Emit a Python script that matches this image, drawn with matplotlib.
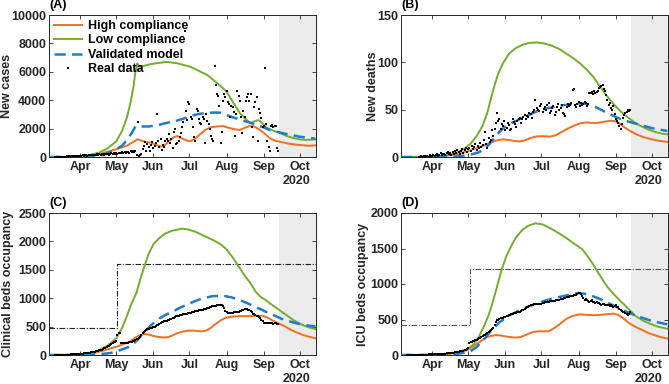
import numpy as np
import matplotlib
matplotlib.use("Agg")
import matplotlib.pyplot as plt

plt.rcParams['font.family'] = ['Liberation Sans', 'DejaVu Sans']
plt.rcParams['font.weight'] = 'bold'

# x axis: days since 2020-03-01
month_days = [31, 61, 92, 122, 153, 184, 214]
month_labels = ['Apr', 'May', 'Jun', 'Jul', 'Aug', 'Sep', 'Oct']
year_label = '2020'
x_limits = (5, 227.5)
forecast_start = 197

# ---------------- Panel A: new cases ----------------
caseA_high_d = [5, 20, 30, 40, 50, 60, 70, 77, 78.5, 82, 86, 90, 95, 98, 101, 105, 109, 112, 116, 120, 123, 127, 131, 135,
                140, 145, 150, 155, 160, 164, 168, 172, 176, 180, 184, 189, 194, 198, 204, 210, 216, 221, 227]
caseA_high_v = [0, 5, 30, 100, 280, 520, 800, 1150, 1250, 1150, 1050, 1000, 830, 730, 800, 1100, 1400, 1480, 1300, 1150,
                1120, 1300, 1600, 1900, 2100, 2150, 2180, 2050, 1950, 1900, 2050, 2180, 2150, 1950, 1700, 1320, 1130, 1060,
                950, 880, 830, 790, 820]
caseA_low_d = [5, 20, 30, 40, 47, 54, 61, 66, 70, 73, 75.5, 77, 78.5, 81, 90, 103, 112, 123, 137, 142, 148, 153, 158, 164,
               169, 173, 176.5, 179.5, 182, 186.5, 192, 198, 203, 209, 215, 220, 227]
caseA_low_v = [0, 10, 50, 160, 320, 620, 1100, 1850, 2800, 3850, 5000, 6000, 6590, 6350, 6550, 6700, 6600, 6350, 5770,
               5420, 5000, 4600, 3900, 3100, 2650, 2400, 2520, 2600, 2450, 2050, 1850, 1670, 1480, 1320, 1230, 1200, 1245]
caseA_val_d = [5, 40, 50, 60, 66, 70, 74, 77, 80, 88, 96, 103, 110, 117, 123, 130, 137, 143, 148, 152, 156, 162, 167, 173,
               178, 184, 189, 195, 200, 207, 214, 220, 227]
caseA_val_v = [0, 20, 150, 500, 800, 1200, 1700, 2150, 2150, 2150, 2250, 2400, 2520, 2700, 2890, 3030, 3110, 3130, 3120,
               3000, 2850, 2700, 2560, 2400, 2250, 2080, 1900, 1780, 1670, 1550, 1430, 1360, 1290]
cases_first_day = 10
cases_real = [0, 5, 10, 5, 15, 10, 20,
              20, 30, 25, 40, 35, 50, 45,
              60, 55, 70, 50, 80, 90, 75,
              100, 90, 120, 85, 110, 130, 105,
              140, 120, 160, 115, 150, 170, 135,
              180, 150, 200, 140, 190, 215, 165,
              220, 190, 245, 175, 235, 260, 205,
              270, 230, 295, 215, 285, 310, 250,
              320, 290, 350, 270, 345, 380, 300,
              400, 350, 430, 330, 450, 120, 2440,
              90, 150, 200, 560, 800, 1030, 450,
              915, 700, 446, 850, 1030, 620, 780,
              990, 3030, 1150, 700, 1280, 520, 870,
              700, 1100, 1300, 1150, 1620, 980, 1300,
              600, 1740, 1970, 900, 1000, 1150, 1400,
              1700, 2140, 2500, 8870, 3260, 2600, 3850,
              3730, 2800, 2650, 2090, 1400, 1150, 3380,
              3260, 2700, 2400, 2320, 2800, 2700, 1000,
              3000, 2560, 2300, 2000, 1500, 1300, 1100,
              6430, 5100, 4430, 4300, 3600, 1000, 1750,
              3970, 4430, 4200, 4670, 3900, 3700, 2800,
              3600, 3500, 3150, 1500, 3050, 4670, 4300,
              3970, 2800, 1700, 3210, 2850, 3970, 4200,
              4450, 3970, 4450, 2100, 1400, 3500, 3850,
              4200, 1100, 3400, 3100, 2750, 2100, 2200,
              6300, 2300, 1150, 700, 450, 2200, 2250,
              2090, 2200, 2150, 600, 400]

# ---------------- Panel B: new deaths ----------------
deathB_high_d = [5, 30, 40, 50, 60, 67, 74, 80, 86, 90, 95, 100, 104, 108, 113, 118, 124, 129, 134, 139, 144, 149, 154,
                 159, 164, 169, 174, 179, 183, 187, 191, 196, 201, 207, 213, 219, 227]
deathB_high_v = [0, 0.3, 1, 2.5, 6, 9, 12, 15.5, 18, 18.6, 18, 16.8, 16.5, 17.5, 20, 21.8, 22, 21.5, 23, 26.5, 30, 33,
                 35.5, 36.5, 36, 36, 37.2, 38.2, 38, 35.5, 31.5, 27.5, 24, 21, 19, 17.3, 16]
deathB_low_d = [5, 20, 30, 40, 50, 57, 63, 68, 73, 77, 80, 83, 86, 90, 95, 100, 106, 112, 118, 124, 130, 137, 143, 149,
                155, 160, 165, 170, 175, 180, 185, 190, 195, 200, 206, 212, 218, 223, 227]
deathB_low_v = [0, 0.2, 0.5, 1.5, 4, 8, 14, 22, 33, 47, 62, 76, 88, 99, 109, 114.5, 118.5, 120.5, 121, 120, 118, 114,
                109, 104, 98, 92, 85, 76, 67, 59, 52, 46, 41, 36, 32, 28.5, 26, 24.5, 24]
deathB_val_d = [5, 40, 55, 63, 70, 75, 79, 82, 85, 89, 93, 98, 104, 110, 115, 121, 127, 133, 139, 145, 150, 155, 160,
                165, 170, 176, 182, 188, 194, 200, 207, 214, 220, 227]
deathB_val_v = [0, 0, 1, 2.5, 5, 9, 14, 19, 24, 29, 33, 36.5, 40, 43.5, 46.5, 49.5, 51.5, 53, 54.5, 55.5, 56.3, 56.7,
                56, 54, 51, 47, 43.5, 40, 37.5, 35.5, 33, 30.5, 29, 27.5]
deaths_first_day = 20
deaths_real = [0, 0, 1, 0, 1, 0, 1,
               1, 0, 2, 1, 1, 2, 1,
               2, 3, 1, 2, 4, 2, 3,
               3, 2, 4, 5, 3, 4, 2,
               5, 3, 6, 4, 7, 5, 3,
               6, 8, 4, 7, 9, 5, 8,
               10, 6, 12, 8, 11, 14, 7,
               12, 9, 15, 11, 13, 18, 26,
               14, 10, 20, 16, 18, 28, 22,
               30, 36, 47, 38, 40, 30, 35,
               33, 38, 29, 31, 36, 34, 28,
               30, 40, 37, 35, 32, 38, 40,
               41, 36, 40, 42, 44, 40, 43,
               42, 46, 45, 41, 48, 50, 60,
               52, 50, 49, 54, 56, 48, 51,
               53, 50, 55, 57, 46, 49, 52,
               54, 44, 48, 53, 56, 50, 52,
               55, 47, 45, 43, 53, 56, 54,
               55, 57, 71, 72, 55, 53, 56,
               58, 54, 57, 55, 56, 58, 57,
               54, 56, 68, 68, 69, 67, 70,
               68, 69, 70, 73, 74, 75, 76,
               72, 70, 65, 60, 55, 57, 52,
               50, 54, 45, 40, 38, 36, 33,
               30, 35, 41, 44, 46, 48, 50,
               49, 50]

# ---------------- Panel C: clinical beds ----------------
clinC_high_d = [5, 30, 40, 47, 54, 61, 67, 72, 76, 80, 84, 88, 92, 96, 100, 104, 108, 112, 116, 120, 124, 128, 132, 136,
                140, 144, 148, 152, 156, 160, 166, 172, 178, 183, 187, 191, 196, 201, 206, 211, 217, 222, 227]
clinC_high_v = [0, 5, 20, 59, 100, 146, 190, 234, 290, 345, 369, 360, 335, 318, 310, 312, 345, 385, 410, 425, 430, 425,
                415, 430, 480, 550, 610, 650, 670, 680, 685, 685, 690, 690, 660, 610, 560, 510, 450, 400, 350, 320, 295]
clinC_low_d = [5, 20, 30, 40, 47, 54, 61, 66, 70, 74, 78, 81, 84, 88, 92, 97, 102, 108, 116, 121, 127, 135, 142, 148,
               153, 158, 163, 168, 173, 177, 181, 186, 191, 197, 203, 209, 215, 221, 227]
clinC_low_v = [0, 2, 10, 35, 88, 170, 293, 480, 690, 920, 1100, 1330, 1530, 1780, 1950, 2060, 2140, 2190, 2225, 2210,
               2170, 2090, 2020, 1950, 1860, 1720, 1560, 1400, 1260, 1120, 1030, 960, 880, 790, 700, 610, 540, 490, 455]
clinC_val_d = [5, 40, 50, 56, 61, 66, 72, 76, 80, 84, 88, 93, 97, 102, 108, 113, 119, 125, 130, 136, 141, 147, 152, 157,
               161, 166, 172, 177, 183, 188, 194, 199, 205, 211, 216, 222, 227]
clinC_val_v = [0, 0, 20, 35, 59, 100, 146, 210, 293, 390, 480, 580, 644, 705, 761, 820, 878, 935, 975, 1010, 1036, 1040,
               1036, 1015, 990, 950, 896, 845, 790, 735, 685, 635, 595, 560, 535, 515, 505]
clin_capacity_d = [5, 62, 227.5]
clin_capacity_v = [470, 1610, 1610]
clin_first_day = 10
clin_real = [0, 0, 0, 1, 2, 2, 3, 4, 5, 5, 6, 7, 8, 9, 10, 12, 13, 15, 16, 18,
             20, 22, 24, 26, 28, 30, 33, 36, 40, 44, 48, 52, 56, 60, 65, 70, 76, 82, 88, 95,
             105, 115, 125, 140, 150, 165, 180, 195, 210, 225,
             230, 240, 360, 380, 390, 210, 205, 210, 215, 205,
             210, 220, 225, 235, 230, 240, 245, 260, 290, 280,
             300, 320, 350, 380, 400, 420, 440, 455, 465, 470,
             470, 480, 490, 500, 510, 520, 530, 545, 560, 575,
             585, 590, 595, 600, 610, 620, 630, 640, 650, 660,
             670, 680, 690, 695, 700, 705, 710, 715, 720, 725,
             730, 735, 740, 745, 750, 755, 760, 770, 775, 780,
             785, 790, 795, 800, 805, 810, 815, 820, 830, 840,
             850, 855, 860, 865, 870, 875, 880, 885, 885, 880,
             860, 820, 780, 750, 740, 735, 740, 745, 740, 750,
             750, 755, 760, 765, 770, 780, 790, 800, 805, 810,
             810, 800, 790, 770, 750, 730, 715, 700, 690, 680,
             670, 650, 620, 590, 570, 560, 560, 565, 560, 555,
             560, 555, 550, 555, 560, 550, 545]

# ---------------- Panel D: ICU beds ----------------
icuD_high_d = [5, 30, 45, 55, 61, 66, 72, 76, 80, 84, 88, 92, 97, 101, 105, 110, 115, 120, 124, 128, 132, 137, 143, 148,
               154, 160, 166, 171, 177, 182, 186, 190, 195, 200, 205, 211, 217, 222, 227]
icuD_high_v = [0, 3, 15, 40, 76, 130, 200, 245, 270, 280, 275, 262, 250, 245, 255, 290, 324, 335, 333, 335, 372, 430,
               512, 550, 573, 565, 560, 565, 575, 583, 565, 520, 450, 400, 360, 310, 275, 250, 232]
icuD_low_d = [5, 25, 35, 47, 54, 61, 66, 70, 74, 78, 81, 84, 89, 93, 97, 101, 106, 111, 117, 123, 130, 137, 144, 150,
              156, 161, 165, 169, 173, 177, 181, 185, 189, 194, 200, 207, 214, 220, 227]
icuD_low_v = [0, 2, 8, 28, 50, 90, 160, 260, 400, 560, 720, 900, 1210, 1400, 1540, 1660, 1760, 1820, 1854, 1840, 1780,
              1710, 1633, 1560, 1490, 1380, 1280, 1170, 1060, 960, 880, 810, 742, 660, 555, 480, 430, 395, 370]
icuD_val_d = [5, 40, 50, 57, 63, 68, 73, 78, 82, 87, 93, 99, 104, 110, 117, 126, 134, 143, 148, 153, 158, 163, 170, 176,
              183, 190, 197, 204, 212, 219, 227]
icuD_val_v = [0, 0, 12, 30, 55, 110, 200, 300, 372, 460, 535, 590, 630, 676, 720, 770, 805, 840, 860, 873, 862, 840, 795,
              746, 690, 629, 580, 535, 490, 460, 432]
icu_capacity_d = [5, 62.5, 227.5]
icu_capacity_v = [420, 1215, 1215]
icu_first_day = 10
icu_real = [0, 0, 0, 0, 1, 1, 1, 2, 2, 3, 3, 4, 4, 5, 5, 6, 6, 7, 8, 8,
            9, 10, 10, 11, 12, 13, 14, 15, 16, 17, 18, 20, 21, 23, 25, 27, 29, 31, 33, 35,
            38, 41, 44, 47, 50, 54, 58, 62, 66, 70,
            90, 100, 170, 180, 185, 195, 200, 210, 215, 225,
            235, 245, 255, 265, 275, 285, 295, 305, 320, 335,
            350, 365, 380, 420, 460, 490, 500, 510, 515, 520,
            525, 530, 540, 550, 555, 560, 570, 575, 580, 590,
            590, 595, 600, 605, 610, 620, 630, 640, 650, 660,
            670, 680, 690, 700, 705, 710, 712, 715, 717, 720,
            720, 722, 725, 730, 735, 740, 745, 748, 750, 755,
            758, 760, 762, 765, 768, 770, 775, 780, 785, 790,
            795, 800, 805, 810, 815, 820, 825, 830, 835, 840,
            845, 850, 860, 870, 880, 860, 830, 800, 780, 790,
            780, 760, 750, 760, 770, 750, 740, 730, 740, 735,
            730, 720, 710, 720, 715, 705, 700, 710, 700, 695,
            700, 690, 680, 690, 700, 680, 670, 650, 640, 620,
            610, 600, 590, 580, 570, 580, 600]

# ---------------- styling ----------------
c_high = '#F26F21'
c_low = '#72AD2E'
c_val = '#1F7BCB'
c_axis = '#262626'

fig = plt.figure(figsize=(6.69, 3.84), dpi=100)
W, H = 669, 384


def make_ax(left, top, right, bottom):
    return fig.add_axes([left / W, 1 - bottom / H, (right - left) / W, (bottom - top) / H])


axA = make_ax(49, 15, 316, 157)
axB = make_ax(401, 15, 668, 157)
axC = make_ax(49, 213, 316, 355)
axD = make_ax(401, 213, 668, 355)


def style(ax, ylim, yticks, ylabel, tag, label_x):
    ax.axvspan(forecast_start, x_limits[1], color='#EBEBEB', lw=0, zorder=0)
    ax.set_xlim(*x_limits)
    ax.set_ylim(*ylim)
    ax.set_yticks(yticks)
    ax.set_yticklabels([str(t) for t in yticks])
    ax.set_xticks(month_days)
    ax.set_xticklabels(month_labels)
    ax.tick_params(direction='in', top=True, right=True, length=3, width=0.6,
                   labelsize=9, colors=c_axis)
    ax.tick_params(axis='y', pad=2)
    ax.tick_params(axis='x', pad=3)
    for lab in ax.get_xticklabels() + ax.get_yticklabels():
        lab.set_fontweight('bold')
    for s in ax.spines.values():
        s.set_color(c_axis)
        s.set_linewidth(0.7)
    ax.set_ylabel(ylabel, fontsize=9, fontweight='bold', color=c_axis)
    ax.yaxis.set_label_coords(label_x, 0.5)
    ax.text(0.0, 1.03, tag, transform=ax.transAxes, fontsize=9, fontweight='bold',
            ha='left', va='bottom', color='black')
    ax.text(211, -0.128, year_label, transform=ax.get_xaxis_transform(), fontsize=9,
            fontweight='bold', ha='center', va='top', color=c_axis)


def curves(ax, hd, hv, ld, lv, vd, vv):
    ax.plot(hd, hv, color=c_high, lw=1.4, label='High compliance', zorder=3)
    ax.plot(ld, lv, color=c_low, lw=1.4, label='Low compliance', zorder=3)
    ax.plot(vd, vv, color=c_val, lw=1.8, ls=(0, (4.5, 2.5)), label='Validated model', zorder=4)


def real(ax, first, vals, ms=1.5):
    d = first + np.arange(len(vals))
    ax.plot(d, vals, ls='none', marker='s', ms=ms, mew=0, color='black', label='Real data', zorder=5)


# A
curves(axA, caseA_high_d, caseA_high_v, caseA_low_d, caseA_low_v, caseA_val_d, caseA_val_v)
real(axA, cases_first_day, cases_real, ms=1.6)
style(axA, (0, 10000), [0, 2000, 4000, 6000, 8000, 10000], 'New cases', '(A)', -0.135)
leg = axA.legend(loc='upper left', frameon=False, fontsize=9, handlelength=2.2, handletextpad=0.5,
                 labelspacing=0.2, borderaxespad=0.3, borderpad=0.1, markerscale=1.2)
for t in leg.get_texts():
    t.set_fontweight('bold')

# B
curves(axB, deathB_high_d, deathB_high_v, deathB_low_d, deathB_low_v, deathB_val_d, deathB_val_v)
real(axB, deaths_first_day, deaths_real, ms=1.6)
style(axB, (0, 150), [0, 50, 100, 150], 'New deaths', '(B)', -0.084)

# C
curves(axC, clinC_high_d, clinC_high_v, clinC_low_d, clinC_low_v, clinC_val_d, clinC_val_v)
axC.plot(clin_capacity_d, clin_capacity_v, drawstyle='steps-post', color='#222222', lw=0.8,
         ls=(0, (5, 1.5, 1, 1.5)), zorder=2)
real(axC, clin_first_day, clin_real, ms=1.7)
style(axC, (0, 2500), [0, 500, 1000, 1500, 2000, 2500], 'Clinical beds occupancy', '(C)', -0.13)

# D
curves(axD, icuD_high_d, icuD_high_v, icuD_low_d, icuD_low_v, icuD_val_d, icuD_val_v)
axD.plot(icu_capacity_d, icu_capacity_v, drawstyle='steps-post', color='#555555', lw=0.8,
         ls=(0, (5, 1.5, 1, 1.5)), zorder=2)
real(axD, icu_first_day, icu_real, ms=1.7)
style(axD, (0, 2000), [0, 500, 1000, 1500, 2000], 'ICU beds occupancy', '(D)', -0.118)

fig.savefig('out.png', dpi=100)
